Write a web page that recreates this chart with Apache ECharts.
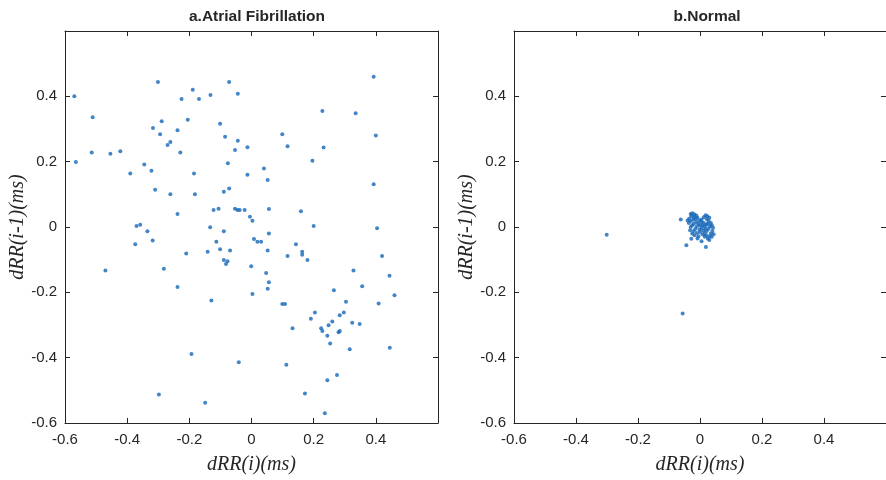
<!DOCTYPE html>
<html><head><meta charset="utf-8">
<script src="https://cdn.jsdelivr.net/npm/echarts@6/dist/echarts.min.js"></script>
<style>html,body{margin:0;padding:0;background:#fff}#c{width:886px;height:480px}</style>
</head><body><div id="c"></div>
<script>
const titles = ['a.Atrial Fibrillation', 'b.Normal'];
const xName = 'dRR(i)(ms)';
const yName = 'dRR(i-1)(ms)';
const tickMin = -0.6, tickMax = 0.6, tickStep = 0.2;

const afibPoints = [
[-0.570,0.400],[-0.301,0.444],[-0.511,0.336],[-0.189,0.420],[-0.225,0.392],[-0.169,0.392],[-0.132,0.404],[-0.072,0.444],[-0.044,0.408],
[-0.289,0.324],[-0.317,0.303],[-0.205,0.328],[-0.294,0.284],[-0.238,0.296],[-0.101,0.316],[-0.261,0.260],[-0.270,0.251],[-0.085,0.276],
[-0.044,0.264],[-0.514,0.228],[-0.454,0.224],[-0.422,0.232],[-0.229,0.228],[-0.053,0.236],[-0.013,0.244],[-0.565,0.199],[-0.345,0.191],
[-0.390,0.164],[-0.322,0.172],[-0.185,0.164],[-0.076,0.195],[-0.013,0.160],[-0.072,0.118],[-0.310,0.114],[0.393,0.460],[0.228,0.355],
[0.335,0.348],[0.099,0.284],[0.400,0.280],[0.116,0.247],[0.232,0.243],[0.196,0.203],[0.040,0.179],[0.052,0.144],[0.393,0.131],
[-0.261,0.100],[-0.182,0.100],[-0.089,0.108],[-0.238,0.040],[-0.122,0.052],[-0.106,0.056],[-0.053,0.056],[-0.045,0.052],[-0.038,0.052],
[-0.022,0.052],[-0.005,0.031],[0.003,0.019],[-0.370,0.003],[-0.358,0.007],[-0.335,-0.013],[-0.133,-0.001],[-0.089,-0.013],[0.008,-0.037],
[0.019,-0.045],[-0.374,-0.053],[-0.318,-0.041],[-0.113,-0.045],[-0.210,-0.081],[-0.141,-0.076],[-0.101,-0.068],[-0.069,-0.072],[-0.089,-0.101],
[-0.077,-0.105],[-0.082,-0.113],[-0.001,-0.120],[-0.470,-0.133],[-0.282,-0.128],[-0.238,-0.184],[0.003,-0.205],[-0.129,-0.225],[0.056,0.055],
[0.159,0.048],[0.200,0.003],[0.404,-0.004],[0.056,-0.020],[0.031,-0.045],[0.143,-0.053],[0.052,-0.072],[0.116,-0.089],[0.163,-0.076],
[0.163,-0.085],[0.180,-0.101],[0.420,-0.089],[0.047,-0.141],[0.328,-0.133],[0.444,-0.149],[0.056,-0.169],[0.356,-0.181],[0.052,-0.189],
[0.265,-0.194],[0.460,-0.209],[0.304,-0.229],[0.099,-0.236],[0.108,-0.236],[0.409,-0.234],[-0.193,-0.389],[-0.041,-0.414],[-0.298,-0.513],
[-0.149,-0.538],[0.204,-0.262],[0.191,-0.281],[0.297,-0.262],[0.284,-0.270],[0.132,-0.310],[0.260,-0.289],[0.324,-0.293],[0.348,-0.297],
[0.248,-0.301],[0.224,-0.310],[0.228,-0.318],[0.284,-0.318],[0.280,-0.322],[0.244,-0.333],[0.253,-0.357],[0.316,-0.374],[0.445,-0.370],
[0.112,-0.422],[0.275,-0.453],[0.244,-0.469],[0.172,-0.510],[0.236,-0.570]
];

const normalPoints = [
[-0.301,-0.024],[-0.056,-0.265],[-0.062,0.023],[-0.044,-0.056],[0.019,-0.061],[-0.028,-0.036],[0.005,-0.044],
[-0.030,0.040],[-0.024,0.042],[-0.018,0.038],[-0.028,0.033],[-0.020,0.030],[-0.012,0.035],[-0.035,0.025],[-0.040,0.020],
[-0.036,0.012],[-0.030,0.018],[-0.022,0.022],[-0.015,0.025],[-0.008,0.028],[-0.002,0.020],[0.005,0.022],[0.012,0.030],
[0.018,0.036],[0.024,0.033],[0.030,0.028],[0.022,0.024],[0.028,0.018],[0.035,0.012],[0.038,0.005],[0.042,-0.002],
[0.040,-0.012],[0.035,-0.020],[0.030,-0.028],[0.025,-0.035],[0.020,-0.025],[0.015,-0.018],[0.010,-0.010],[0.005,-0.003],
[0.000,0.005],[-0.005,0.010],[-0.010,0.002],[-0.015,-0.005],[-0.020,-0.012],[-0.025,0.005],[-0.030,0.000],[-0.032,-0.010],
[-0.025,-0.020],[-0.018,-0.025],[-0.010,-0.018],[-0.005,-0.028],[0.000,-0.015],[0.008,-0.022],[0.015,-0.030],[0.022,-0.012],
[0.028,-0.005],[0.032,0.002],[0.020,0.008],[0.012,0.012],[0.005,0.015],[-0.012,0.015],[-0.020,0.010],[0.015,0.002],
[0.025,0.010],[0.008,0.005],[-0.002,-0.008],[0.018,-0.005],[-0.008,-0.035],[0.030,-0.040],[0.038,-0.030],[0.044,-0.022]
];

const chart = echarts.init(document.getElementById('c'), null, {renderer: 'canvas'});
const ink = '#262626';
const dotColor = '#1466b8';
const lblFont = {color: ink, fontSize: 15, fontFamily: 'Liberation Sans, Arial, sans-serif'};
const nameFont = {color: ink, fontSize: 20, fontStyle: 'italic', fontFamily: 'Liberation Serif, DejaVu Serif, serif'};
const titleFont = {fontSize: 15.5, fontWeight: 'bold', color: ink, fontFamily: 'Liberation Sans, Arial, sans-serif'};
const grids = [
  {left: 65, top: 31, width: 373, height: 393},
  {left: 514, top: 31, width: 373, height: 393}
];
const xAxes = [], yAxes = [];
grids.forEach((g, i) => {
  const base = {
    gridIndex: i, type: 'value', min: tickMin, max: tickMax, interval: tickStep,
    splitLine: {show: false},
    axisLine: {show: true, onZero: false, lineStyle: {color: ink, width: 1}},
    axisTick: {show: true, inside: true, length: 5, lineStyle: {color: ink}}
  };
  xAxes.push(Object.assign({}, base, {
    position: 'bottom', name: xName, nameLocation: 'middle', nameGap: 32, nameTextStyle: nameFont,
    axisLabel: Object.assign({show: true, margin: 9, showMaxLabel: false,
      formatter: v => String(Math.round(v * 10) / 10)}, lblFont)
  }));
  xAxes.push(Object.assign({}, base, {position: 'top', axisLabel: {show: false}}));
  yAxes.push(Object.assign({}, base, {
    position: 'left', name: yName, nameLocation: 'middle', nameGap: 37, nameTextStyle: nameFont,
    axisLabel: Object.assign({show: true, margin: 8, showMaxLabel: false,
      formatter: v => String(Math.round(v * 10) / 10)}, lblFont)
  }));
  yAxes.push(Object.assign({}, base, {position: 'right', axisLabel: {show: false}}));
});

chart.setOption({
  animation: false,
  backgroundColor: '#ffffff',
  title: [
    {text: titles[0], left: 252, top: 4, textAlign: 'center', textStyle: titleFont},
    {text: titles[1], left: 702, top: 4, textAlign: 'center', textStyle: titleFont}
  ],
  grid: grids,
  xAxis: xAxes,
  yAxis: yAxes,
  series: [
    {type: 'scatter', xAxisIndex: 0, yAxisIndex: 0, data: afibPoints, symbolSize: 4,
     itemStyle: {color: dotColor}},
    {type: 'scatter', xAxisIndex: 2, yAxisIndex: 2, data: normalPoints, symbolSize: 4,
     itemStyle: {color: dotColor}}
  ]
});
</script>
</body></html>
